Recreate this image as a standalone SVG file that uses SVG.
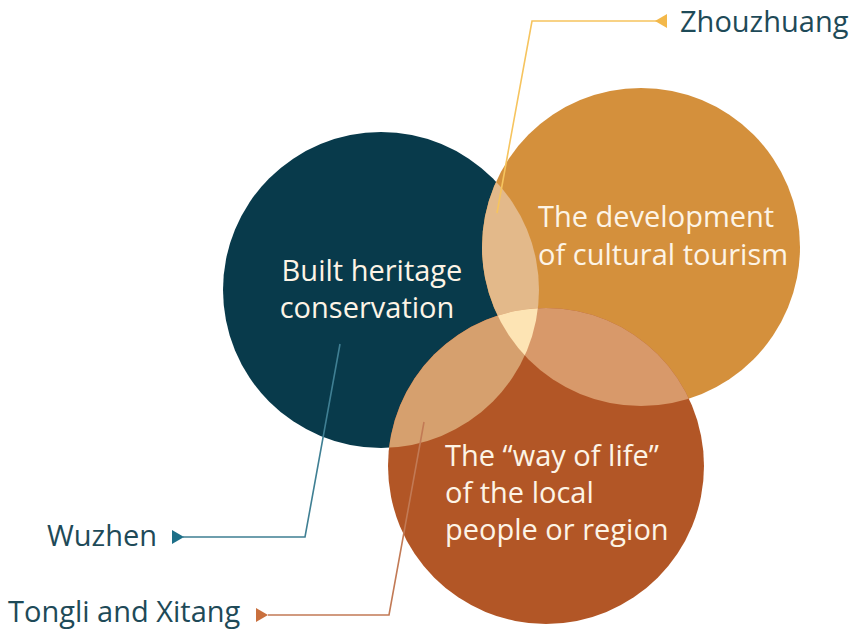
<svg xmlns="http://www.w3.org/2000/svg" width="854" height="630" viewBox="0 0 854 630">
<style>
.ct{font-family:"Open Sans","Liberation Sans",sans-serif;font-size:29px;fill:#fdf4e6}
.lb{font-family:"Open Sans","Liberation Sans",sans-serif;font-size:29px;fill:#1e4a58}
.ln{fill:none;stroke-width:1.6}
</style>
<defs>
<clipPath id="cA"><circle cx="381" cy="290" r="158"/></clipPath>
<clipPath id="cB"><circle cx="641" cy="247" r="159"/></clipPath>
</defs>
<rect width="854" height="630" fill="#ffffff"/>
<g id="node-heritage">
<circle cx="381" cy="290" r="158" fill="#083a4b"/>
</g>
<g id="node-tourism">
<circle cx="641" cy="247" r="159" fill="#d4903c"/>
</g>
<g id="node-wayoflife">
<circle cx="546" cy="466" r="158" fill="#b25626"/>
</g>
<g id="overlaps">
<circle cx="641" cy="247" r="159" fill="#e3b98a" clip-path="url(#cA)"/>
<circle cx="546" cy="466" r="158" fill="#d6a06e" clip-path="url(#cA)"/>
<circle cx="546" cy="466" r="158" fill="#d8996a" clip-path="url(#cB)"/>
<g clip-path="url(#cB)"><circle cx="546" cy="466" r="158" fill="#fde4b4" clip-path="url(#cA)"/></g>
</g>
<g id="texts">
<text class="ct" x="372" y="281" text-anchor="middle">Built heritage</text>
<text class="ct" x="367" y="318" text-anchor="middle">conservation</text>
<text class="ct" x="538" y="227">The development</text>
<text class="ct" x="538" y="265">of cultural tourism</text>
<text class="ct" x="445" y="466">The “way of life”</text>
<text class="ct" x="445" y="503">of the local</text>
<text class="ct" x="445" y="540">people or region</text>
</g>
<g id="connectors">
<polyline class="ln" stroke="#f6c45e" points="497,213 532,21 657,21"/>
<polygon fill="#f3b84a" points="655,21 667,14 667,28"/>
<polyline class="ln" stroke="#3f7f93" points="340,344 305,537 183,537"/>
<polygon fill="#1d6f88" points="184,537 172,530 172,544"/>
<polyline class="ln" stroke="#c27a55" points="424,422 389,615 268,615"/>
<polygon fill="#c9703e" points="268,615 256,608 256,622"/>
</g>
<g id="labels">
<text class="lb" x="680" y="32">Zhouzhuang</text>
<text class="lb" x="47" y="546">Wuzhen</text>
<text class="lb" x="8" y="622">Tongli and Xitang</text>
</g>
</svg>
